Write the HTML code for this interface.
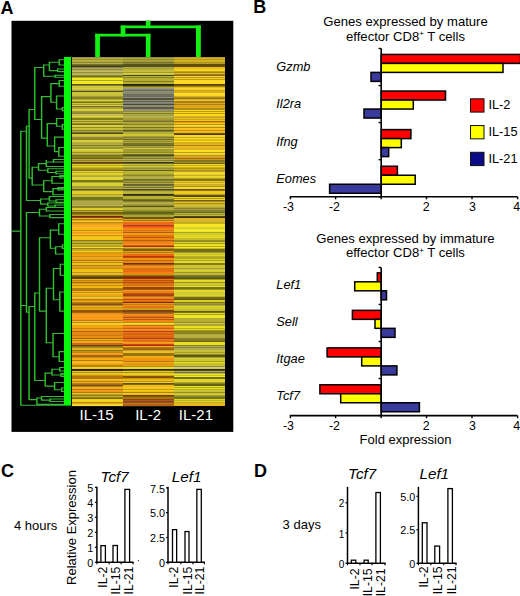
<!DOCTYPE html>
<html><head><meta charset="utf-8"><style>
html,body{margin:0;padding:0;background:#fff;}
svg{display:block;font-family:"Liberation Sans", sans-serif;}
</style></head><body>
<svg width="520" height="596" viewBox="0 0 520 596">
<rect width="520" height="596" fill="#fff"/>
<text x="0.5" y="13.85" font-size="18" font-weight="bold" font-style="normal" text-anchor="start" fill="#000" >A</text>
<text x="253.2" y="13.3" font-size="18" font-weight="bold" font-style="normal" text-anchor="start" fill="#000" >B</text>
<text x="1.0" y="477.4" font-size="18" font-weight="bold" font-style="normal" text-anchor="start" fill="#000" >C</text>
<text x="254.1" y="477.4" font-size="18" font-weight="bold" font-style="normal" text-anchor="start" fill="#000" >D</text>
<rect x="11.5" y="20.8" width="221.8" height="411.1" fill="#000"/>
<g shape-rendering="crispEdges"><rect x="72" y="57.00" width="51" height="1.50" fill="#959153"/>
<rect x="72" y="58.20" width="51" height="3.80" fill="#b6ae3a"/>
<rect x="72" y="61.70" width="51" height="2.10" fill="#aea642"/>
<rect x="72" y="63.50" width="51" height="1.40" fill="#747421"/>
<rect x="72" y="64.60" width="51" height="2.70" fill="#424211"/>
<rect x="72" y="67.00" width="51" height="3.30" fill="#b2aa5f"/>
<rect x="72" y="70.00" width="51" height="6.10" fill="#bab253"/>
<rect x="72" y="75.80" width="51" height="1.50" fill="#535311"/>
<rect x="72" y="77.00" width="51" height="7.30" fill="#f0e821"/>
<rect x="72" y="84.00" width="51" height="2.10" fill="#746c11"/>
<rect x="72" y="85.80" width="51" height="5.50" fill="#cfc73a"/>
<rect x="72" y="91.00" width="51" height="1.60" fill="#535311"/>
<rect x="72" y="92.30" width="51" height="5.00" fill="#c7be3a"/>
<rect x="72" y="97.00" width="51" height="2.00" fill="#847c21"/>
<rect x="72" y="98.70" width="51" height="3.20" fill="#d7cf3a"/>
<rect x="72" y="101.60" width="51" height="2.10" fill="#747411"/>
<rect x="72" y="103.40" width="51" height="3.30" fill="#cfc73a"/>
<rect x="72" y="106.40" width="51" height="2.60" fill="#a69d32"/>
<rect x="72" y="108.70" width="51" height="2.60" fill="#d7cf32"/>
<rect x="72" y="111.00" width="51" height="2.10" fill="#958d29"/>
<rect x="72" y="112.80" width="51" height="3.30" fill="#c7be53"/>
<rect x="72" y="115.80" width="51" height="2.60" fill="#e0d732"/>
<rect x="72" y="118.10" width="51" height="2.10" fill="#847c19"/>
<rect x="72" y="119.90" width="51" height="3.20" fill="#c7be3a"/>
<rect x="72" y="122.80" width="51" height="2.10" fill="#958d29"/>
<rect x="72" y="124.60" width="51" height="0.70" fill="#d7cf32"/>
<rect x="72" y="125.00" width="51" height="2.70" fill="#d7cf32"/>
<rect x="72" y="127.40" width="51" height="2.60" fill="#c7be3a"/>
<rect x="72" y="129.70" width="51" height="2.10" fill="#a69d29"/>
<rect x="72" y="131.50" width="51" height="2.60" fill="#746c19"/>
<rect x="72" y="133.80" width="51" height="2.70" fill="#cfc73a"/>
<rect x="72" y="136.20" width="51" height="2.00" fill="#beb64b"/>
<rect x="72" y="137.90" width="51" height="2.10" fill="#8d8421"/>
<rect x="72" y="139.70" width="51" height="2.60" fill="#d7cf3a"/>
<rect x="72" y="142.00" width="51" height="2.70" fill="#aea632"/>
<rect x="72" y="144.40" width="51" height="2.60" fill="#b6ae42"/>
<rect x="72" y="146.70" width="51" height="2.10" fill="#959529"/>
<rect x="72" y="148.50" width="51" height="3.20" fill="#d7cf3a"/>
<rect x="72" y="151.40" width="51" height="2.70" fill="#c7be3a"/>
<rect x="72" y="153.80" width="51" height="2.60" fill="#a69d32"/>
<rect x="72" y="156.10" width="51" height="3.30" fill="#847c21"/>
<rect x="72" y="159.10" width="51" height="3.20" fill="#b6a632"/>
<rect x="72" y="162.00" width="51" height="2.70" fill="#634211"/>
<rect x="72" y="164.40" width="51" height="2.60" fill="#e8d721"/>
<rect x="72" y="166.70" width="51" height="3.30" fill="#c7ae21"/>
<rect x="72" y="169.70" width="51" height="2.00" fill="#847411"/>
<rect x="72" y="171.40" width="51" height="4.40" fill="#e0cf29"/>
<rect x="72" y="175.50" width="51" height="2.10" fill="#a69d29"/>
<rect x="72" y="177.30" width="51" height="3.20" fill="#e0d732"/>
<rect x="72" y="180.20" width="51" height="2.10" fill="#747419"/>
<rect x="72" y="182.00" width="51" height="4.40" fill="#d7cf32"/>
<rect x="72" y="186.10" width="51" height="2.70" fill="#a69d32"/>
<rect x="72" y="188.50" width="51" height="2.60" fill="#847c19"/>
<rect x="72" y="190.80" width="51" height="2.50" fill="#e0cf29"/>
<rect x="72" y="193.00" width="51" height="2.70" fill="#e8cf21"/>
<rect x="72" y="195.40" width="51" height="2.00" fill="#beb632"/>
<rect x="72" y="197.10" width="51" height="2.70" fill="#747419"/>
<rect x="72" y="199.50" width="51" height="2.60" fill="#b6ae4b"/>
<rect x="72" y="201.80" width="51" height="4.40" fill="#aea642"/>
<rect x="72" y="205.90" width="51" height="2.10" fill="#8d8421"/>
<rect x="72" y="207.70" width="51" height="2.60" fill="#e0cf29"/>
<rect x="72" y="210.00" width="51" height="2.10" fill="#ae9d29"/>
<rect x="72" y="211.80" width="51" height="2.10" fill="#746311"/>
<rect x="72" y="213.60" width="51" height="2.60" fill="#be9d21"/>
<rect x="72" y="215.90" width="51" height="2.70" fill="#954211"/>
<rect x="72" y="218.30" width="51" height="2.60" fill="#e8a611"/>
<rect x="72" y="220.60" width="51" height="2.70" fill="#f0c719"/>
<rect x="72" y="223.00" width="51" height="2.60" fill="#f09511"/>
<rect x="72" y="225.30" width="51" height="3.30" fill="#f8ae11"/>
<rect x="72" y="228.30" width="51" height="3.80" fill="#f8b611"/>
<rect x="72" y="231.80" width="51" height="2.60" fill="#f09d11"/>
<rect x="72" y="234.10" width="51" height="3.90" fill="#f8be11"/>
<rect x="72" y="237.70" width="51" height="2.60" fill="#f0c719"/>
<rect x="72" y="240.00" width="51" height="2.70" fill="#b69d21"/>
<rect x="72" y="242.40" width="51" height="3.80" fill="#beae21"/>
<rect x="72" y="245.90" width="51" height="2.60" fill="#f8d721"/>
<rect x="72" y="248.20" width="51" height="2.70" fill="#c7a621"/>
<rect x="72" y="250.60" width="51" height="2.70" fill="#f0cf19"/>
<rect x="72" y="253.00" width="51" height="2.60" fill="#f09511"/>
<rect x="72" y="255.30" width="51" height="3.80" fill="#f0a611"/>
<rect x="72" y="258.80" width="51" height="2.50" fill="#f09d11"/>
<rect x="72" y="261.00" width="51" height="2.70" fill="#f0ae11"/>
<rect x="72" y="263.40" width="51" height="2.60" fill="#f0be19"/>
<rect x="72" y="265.70" width="51" height="2.10" fill="#e09511"/>
<rect x="72" y="267.50" width="51" height="2.60" fill="#f0b611"/>
<rect x="72" y="269.80" width="51" height="2.70" fill="#f0c719"/>
<rect x="72" y="272.20" width="51" height="2.60" fill="#e8b619"/>
<rect x="72" y="274.50" width="51" height="2.10" fill="#c7a619"/>
<rect x="72" y="276.30" width="51" height="2.60" fill="#634208"/>
<rect x="72" y="278.60" width="51" height="2.70" fill="#f0b611"/>
<rect x="72" y="281.00" width="51" height="3.20" fill="#e89511"/>
<rect x="72" y="283.90" width="51" height="3.30" fill="#f0ae11"/>
<rect x="72" y="286.90" width="51" height="2.60" fill="#f0be19"/>
<rect x="72" y="289.20" width="51" height="2.10" fill="#b67411"/>
<rect x="72" y="291.00" width="51" height="3.20" fill="#f0b611"/>
<rect x="72" y="293.90" width="51" height="2.70" fill="#f0a611"/>
<rect x="72" y="296.30" width="51" height="2.60" fill="#f0be19"/>
<rect x="72" y="298.60" width="51" height="2.70" fill="#e08d11"/>
<rect x="72" y="301.00" width="51" height="2.60" fill="#e8ae11"/>
<rect x="72" y="303.30" width="51" height="2.70" fill="#a66311"/>
<rect x="72" y="305.70" width="51" height="2.60" fill="#f0b619"/>
<rect x="72" y="308.00" width="51" height="2.70" fill="#e0a611"/>
<rect x="72" y="310.40" width="51" height="2.60" fill="#955308"/>
<rect x="72" y="312.70" width="51" height="2.70" fill="#f09511"/>
<rect x="72" y="315.10" width="51" height="5.00" fill="#f89511"/>
<rect x="72" y="319.80" width="51" height="2.60" fill="#f8a611"/>
<rect x="72" y="322.10" width="51" height="2.70" fill="#f8c721"/>
<rect x="72" y="324.50" width="51" height="2.60" fill="#f0a611"/>
<rect x="72" y="326.80" width="51" height="2.50" fill="#f8a611"/>
<rect x="72" y="329.00" width="51" height="2.90" fill="#f09511"/>
<rect x="72" y="331.60" width="51" height="4.20" fill="#e88411"/>
<rect x="72" y="335.50" width="51" height="4.10" fill="#e88d11"/>
<rect x="72" y="339.30" width="51" height="2.30" fill="#f0ae19"/>
<rect x="72" y="341.30" width="51" height="2.20" fill="#f0a611"/>
<rect x="72" y="343.20" width="51" height="2.30" fill="#d76311"/>
<rect x="72" y="345.20" width="51" height="2.20" fill="#746311"/>
<rect x="72" y="347.10" width="51" height="2.90" fill="#e8ae19"/>
<rect x="72" y="349.70" width="51" height="2.90" fill="#be9519"/>
<rect x="72" y="352.30" width="51" height="2.80" fill="#f09d11"/>
<rect x="72" y="354.80" width="51" height="2.30" fill="#a66311"/>
<rect x="72" y="356.80" width="51" height="4.20" fill="#f8a611"/>
<rect x="72" y="360.70" width="51" height="2.80" fill="#f8b611"/>
<rect x="72" y="363.20" width="51" height="2.90" fill="#f0a611"/>
<rect x="72" y="365.80" width="51" height="3.50" fill="#f8c711"/>
<rect x="72" y="369.00" width="51" height="2.30" fill="#322908"/>
<rect x="72" y="371.00" width="51" height="2.90" fill="#f0c719"/>
<rect x="72" y="373.60" width="51" height="2.90" fill="#e8b611"/>
<rect x="72" y="376.20" width="51" height="2.80" fill="#b67411"/>
<rect x="72" y="378.70" width="51" height="2.90" fill="#f0b611"/>
<rect x="72" y="381.30" width="51" height="2.90" fill="#f0a611"/>
<rect x="72" y="383.90" width="51" height="2.20" fill="#845308"/>
<rect x="72" y="385.80" width="51" height="3.60" fill="#f0ae19"/>
<rect x="72" y="389.10" width="51" height="2.90" fill="#f09511"/>
<rect x="72" y="391.70" width="51" height="2.80" fill="#f0b611"/>
<rect x="72" y="394.20" width="51" height="2.90" fill="#b69d19"/>
<rect x="72" y="396.80" width="51" height="2.90" fill="#958411"/>
<rect x="72" y="399.40" width="51" height="2.90" fill="#f0cf19"/>
<rect x="72" y="402.00" width="51" height="2.10" fill="#e8a611"/>
<rect x="72" y="403.80" width="51" height="2.10" fill="#f0d732"/>
<rect x="123" y="57.00" width="51" height="1.50" fill="#8f8b42"/>
<rect x="123" y="58.20" width="51" height="2.10" fill="#aea632"/>
<rect x="123" y="60.00" width="51" height="3.80" fill="#9f9932"/>
<rect x="123" y="63.50" width="51" height="3.80" fill="#535319"/>
<rect x="123" y="67.00" width="51" height="2.60" fill="#a69d3a"/>
<rect x="123" y="69.30" width="51" height="2.70" fill="#beb632"/>
<rect x="123" y="71.70" width="51" height="3.20" fill="#cfc732"/>
<rect x="123" y="74.60" width="51" height="2.10" fill="#535311"/>
<rect x="123" y="76.40" width="51" height="7.80" fill="#b6ae32"/>
<rect x="123" y="83.90" width="51" height="2.30" fill="#323211"/>
<rect x="123" y="85.90" width="51" height="2.70" fill="#aea63a"/>
<rect x="123" y="88.30" width="51" height="2.80" fill="#878774"/>
<rect x="123" y="90.80" width="51" height="2.20" fill="#918f6a"/>
<rect x="123" y="92.70" width="51" height="1.80" fill="#787867"/>
<rect x="123" y="94.20" width="51" height="1.80" fill="#70705f"/>
<rect x="123" y="95.70" width="51" height="2.70" fill="#848474"/>
<rect x="123" y="98.10" width="51" height="1.80" fill="#4f4f3e"/>
<rect x="123" y="99.60" width="51" height="1.80" fill="#918f6c"/>
<rect x="123" y="101.10" width="51" height="2.70" fill="#7c7c6a"/>
<rect x="123" y="103.50" width="51" height="1.80" fill="#5f5f4b"/>
<rect x="123" y="105.00" width="51" height="2.30" fill="#8f8d6c"/>
<rect x="123" y="107.00" width="51" height="2.20" fill="#5b5b4b"/>
<rect x="123" y="108.90" width="51" height="2.80" fill="#918f70"/>
<rect x="123" y="111.40" width="51" height="2.70" fill="#b6ae42"/>
<rect x="123" y="113.80" width="51" height="2.30" fill="#a6a642"/>
<rect x="123" y="115.80" width="51" height="2.20" fill="#b6ae53"/>
<rect x="123" y="117.70" width="51" height="3.10" fill="#a69d32"/>
<rect x="123" y="120.50" width="51" height="3.80" fill="#a69d32"/>
<rect x="123" y="124.00" width="51" height="1.30" fill="#b6ae32"/>
<rect x="123" y="125.00" width="51" height="2.70" fill="#beb632"/>
<rect x="123" y="127.40" width="51" height="2.60" fill="#a69d32"/>
<rect x="123" y="129.70" width="51" height="2.10" fill="#747421"/>
<rect x="123" y="131.50" width="51" height="2.60" fill="#b6ae3a"/>
<rect x="123" y="133.80" width="51" height="2.70" fill="#cfc732"/>
<rect x="123" y="136.20" width="51" height="2.60" fill="#a69d3a"/>
<rect x="123" y="138.50" width="51" height="2.10" fill="#6c6c21"/>
<rect x="123" y="140.30" width="51" height="2.60" fill="#aea63a"/>
<rect x="123" y="142.60" width="51" height="2.70" fill="#747421"/>
<rect x="123" y="145.00" width="51" height="3.20" fill="#9d9532"/>
<rect x="123" y="147.90" width="51" height="2.10" fill="#cfc732"/>
<rect x="123" y="149.70" width="51" height="2.60" fill="#a69d32"/>
<rect x="123" y="152.00" width="51" height="2.10" fill="#beb632"/>
<rect x="123" y="153.80" width="51" height="3.80" fill="#6c6c21"/>
<rect x="123" y="157.30" width="51" height="2.10" fill="#a69d3a"/>
<rect x="123" y="159.10" width="51" height="3.20" fill="#aea642"/>
<rect x="123" y="162.00" width="51" height="2.70" fill="#4b4b11"/>
<rect x="123" y="164.40" width="51" height="3.20" fill="#cfc732"/>
<rect x="123" y="167.30" width="51" height="2.70" fill="#aea63a"/>
<rect x="123" y="169.70" width="51" height="2.00" fill="#747421"/>
<rect x="123" y="171.40" width="51" height="3.30" fill="#beb632"/>
<rect x="123" y="174.40" width="51" height="2.60" fill="#a69d32"/>
<rect x="123" y="176.70" width="51" height="2.70" fill="#b6ae42"/>
<rect x="123" y="179.10" width="51" height="2.60" fill="#6c6c21"/>
<rect x="123" y="181.40" width="51" height="2.70" fill="#a69d32"/>
<rect x="123" y="183.80" width="51" height="2.60" fill="#636329"/>
<rect x="123" y="186.10" width="51" height="3.20" fill="#aea642"/>
<rect x="123" y="189.00" width="51" height="2.70" fill="#6c6c21"/>
<rect x="123" y="191.40" width="51" height="1.90" fill="#b6ae32"/>
<rect x="123" y="193.00" width="51" height="1.50" fill="#b6ae32"/>
<rect x="123" y="194.20" width="51" height="2.00" fill="#424211"/>
<rect x="123" y="195.90" width="51" height="3.30" fill="#b6ae32"/>
<rect x="123" y="198.90" width="51" height="2.00" fill="#747421"/>
<rect x="123" y="200.60" width="51" height="3.30" fill="#aea63a"/>
<rect x="123" y="203.60" width="51" height="2.00" fill="#a69d32"/>
<rect x="123" y="205.30" width="51" height="2.10" fill="#747421"/>
<rect x="123" y="207.10" width="51" height="3.20" fill="#aea632"/>
<rect x="123" y="210.00" width="51" height="2.10" fill="#959529"/>
<rect x="123" y="211.80" width="51" height="2.10" fill="#636319"/>
<rect x="123" y="213.60" width="51" height="3.20" fill="#a6a632"/>
<rect x="123" y="216.50" width="51" height="2.70" fill="#745311"/>
<rect x="123" y="218.90" width="51" height="3.20" fill="#e89d11"/>
<rect x="123" y="221.80" width="51" height="2.60" fill="#e86c11"/>
<rect x="123" y="224.10" width="51" height="4.50" fill="#e85311"/>
<rect x="123" y="228.30" width="51" height="5.00" fill="#f88411"/>
<rect x="123" y="233.00" width="51" height="2.60" fill="#f09d11"/>
<rect x="123" y="235.30" width="51" height="2.70" fill="#e87411"/>
<rect x="123" y="237.70" width="51" height="2.60" fill="#f08411"/>
<rect x="123" y="240.00" width="51" height="2.70" fill="#e87c11"/>
<rect x="123" y="242.40" width="51" height="2.60" fill="#f08411"/>
<rect x="123" y="244.70" width="51" height="2.70" fill="#d75311"/>
<rect x="123" y="247.10" width="51" height="2.00" fill="#f0a611"/>
<rect x="123" y="248.80" width="51" height="2.70" fill="#746311"/>
<rect x="123" y="251.20" width="51" height="2.60" fill="#e89d11"/>
<rect x="123" y="253.50" width="51" height="2.70" fill="#e86c11"/>
<rect x="123" y="255.90" width="51" height="2.60" fill="#d74211"/>
<rect x="123" y="258.20" width="51" height="2.70" fill="#f09511"/>
<rect x="123" y="260.60" width="51" height="0.70" fill="#f08d11"/>
<rect x="123" y="261.00" width="51" height="2.10" fill="#f08411"/>
<rect x="123" y="262.80" width="51" height="2.00" fill="#844208"/>
<rect x="123" y="264.50" width="51" height="2.70" fill="#f07811"/>
<rect x="123" y="266.90" width="51" height="2.00" fill="#f09511"/>
<rect x="123" y="268.60" width="51" height="3.90" fill="#e86c11"/>
<rect x="123" y="272.20" width="51" height="2.60" fill="#f08411"/>
<rect x="123" y="274.50" width="51" height="2.10" fill="#bea621"/>
<rect x="123" y="276.30" width="51" height="2.60" fill="#843208"/>
<rect x="123" y="278.60" width="51" height="2.70" fill="#f07811"/>
<rect x="123" y="281.00" width="51" height="3.80" fill="#e86c11"/>
<rect x="123" y="284.50" width="51" height="3.20" fill="#f09511"/>
<rect x="123" y="287.40" width="51" height="2.10" fill="#954208"/>
<rect x="123" y="289.20" width="51" height="2.70" fill="#f08411"/>
<rect x="123" y="291.60" width="51" height="2.60" fill="#f07811"/>
<rect x="123" y="293.90" width="51" height="2.10" fill="#a64211"/>
<rect x="123" y="295.70" width="51" height="3.20" fill="#f08411"/>
<rect x="123" y="298.60" width="51" height="3.20" fill="#e06311"/>
<rect x="123" y="301.50" width="51" height="2.10" fill="#954211"/>
<rect x="123" y="303.30" width="51" height="2.70" fill="#f09511"/>
<rect x="123" y="305.70" width="51" height="2.60" fill="#e87411"/>
<rect x="123" y="308.00" width="51" height="2.70" fill="#c79d19"/>
<rect x="123" y="310.40" width="51" height="2.60" fill="#844211"/>
<rect x="123" y="312.70" width="51" height="2.70" fill="#f09511"/>
<rect x="123" y="315.10" width="51" height="5.00" fill="#f07411"/>
<rect x="123" y="319.80" width="51" height="2.60" fill="#f88411"/>
<rect x="123" y="322.10" width="51" height="2.70" fill="#f0cf19"/>
<rect x="123" y="324.50" width="51" height="2.60" fill="#f08411"/>
<rect x="123" y="326.80" width="51" height="2.50" fill="#f87c11"/>
<rect x="123" y="329.00" width="51" height="2.30" fill="#f88411"/>
<rect x="123" y="331.00" width="51" height="2.80" fill="#e86311"/>
<rect x="123" y="333.50" width="51" height="2.90" fill="#e87411"/>
<rect x="123" y="336.10" width="51" height="3.50" fill="#e06311"/>
<rect x="123" y="339.30" width="51" height="2.90" fill="#e86c11"/>
<rect x="123" y="341.90" width="51" height="2.30" fill="#f09511"/>
<rect x="123" y="343.90" width="51" height="2.20" fill="#d74211"/>
<rect x="123" y="345.80" width="51" height="2.90" fill="#f0a611"/>
<rect x="123" y="348.40" width="51" height="2.20" fill="#a66311"/>
<rect x="123" y="350.30" width="51" height="2.90" fill="#f0be19"/>
<rect x="123" y="352.90" width="51" height="2.90" fill="#957411"/>
<rect x="123" y="355.50" width="51" height="2.90" fill="#f0ae11"/>
<rect x="123" y="358.10" width="51" height="2.90" fill="#f09511"/>
<rect x="123" y="360.70" width="51" height="2.80" fill="#f0a611"/>
<rect x="123" y="363.20" width="51" height="2.90" fill="#e89511"/>
<rect x="123" y="365.80" width="51" height="3.50" fill="#f0d721"/>
<rect x="123" y="369.00" width="51" height="2.30" fill="#323208"/>
<rect x="123" y="371.00" width="51" height="2.90" fill="#f0cf19"/>
<rect x="123" y="373.60" width="51" height="2.90" fill="#f8cf21"/>
<rect x="123" y="376.20" width="51" height="2.20" fill="#845308"/>
<rect x="123" y="378.10" width="51" height="2.90" fill="#f0b611"/>
<rect x="123" y="380.70" width="51" height="2.90" fill="#f0c719"/>
<rect x="123" y="383.30" width="51" height="2.20" fill="#846311"/>
<rect x="123" y="385.20" width="51" height="3.50" fill="#f0be11"/>
<rect x="123" y="388.40" width="51" height="2.90" fill="#f8c711"/>
<rect x="123" y="391.00" width="51" height="4.20" fill="#f0be11"/>
<rect x="123" y="394.90" width="51" height="2.20" fill="#845308"/>
<rect x="123" y="396.80" width="51" height="2.90" fill="#a67411"/>
<rect x="123" y="399.40" width="51" height="2.90" fill="#954211"/>
<rect x="123" y="402.00" width="51" height="3.90" fill="#b66311"/>
<rect x="174" y="57.00" width="50.5" height="1.50" fill="#b69521"/>
<rect x="174" y="58.20" width="50.5" height="2.10" fill="#d7b621"/>
<rect x="174" y="60.00" width="50.5" height="2.60" fill="#cfae19"/>
<rect x="174" y="62.30" width="50.5" height="2.00" fill="#e0be21"/>
<rect x="174" y="64.00" width="50.5" height="3.30" fill="#634b08"/>
<rect x="174" y="67.00" width="50.5" height="2.60" fill="#e8be19"/>
<rect x="174" y="69.30" width="50.5" height="2.70" fill="#f8cf21"/>
<rect x="174" y="71.70" width="50.5" height="2.60" fill="#d7ae19"/>
<rect x="174" y="74.00" width="50.5" height="2.70" fill="#a68411"/>
<rect x="174" y="76.40" width="50.5" height="2.60" fill="#f8cf21"/>
<rect x="174" y="78.70" width="50.5" height="5.60" fill="#ffd721"/>
<rect x="174" y="84.00" width="50.5" height="2.10" fill="#745308"/>
<rect x="174" y="85.80" width="50.5" height="2.60" fill="#e8be19"/>
<rect x="174" y="88.10" width="50.5" height="2.70" fill="#f8cf21"/>
<rect x="174" y="90.50" width="50.5" height="3.20" fill="#d7ae19"/>
<rect x="174" y="93.40" width="50.5" height="3.90" fill="#ffd721"/>
<rect x="174" y="97.00" width="50.5" height="2.60" fill="#ae8411"/>
<rect x="174" y="99.30" width="50.5" height="2.70" fill="#e0b619"/>
<rect x="174" y="101.70" width="50.5" height="2.00" fill="#957411"/>
<rect x="174" y="103.40" width="50.5" height="4.40" fill="#e0a619"/>
<rect x="174" y="107.50" width="50.5" height="2.70" fill="#ae8d11"/>
<rect x="174" y="109.90" width="50.5" height="6.20" fill="#ffd711"/>
<rect x="174" y="115.80" width="50.5" height="2.60" fill="#e0b619"/>
<rect x="174" y="118.10" width="50.5" height="2.70" fill="#f0c719"/>
<rect x="174" y="120.50" width="50.5" height="2.60" fill="#e89d11"/>
<rect x="174" y="122.80" width="50.5" height="2.10" fill="#f0c719"/>
<rect x="174" y="124.60" width="50.5" height="0.70" fill="#e0b619"/>
<rect x="174" y="125.00" width="50.5" height="2.70" fill="#f8cf21"/>
<rect x="174" y="127.40" width="50.5" height="4.40" fill="#f8be19"/>
<rect x="174" y="131.50" width="50.5" height="2.00" fill="#e0b619"/>
<rect x="174" y="133.20" width="50.5" height="2.10" fill="#745311"/>
<rect x="174" y="135.00" width="50.5" height="3.80" fill="#f8d721"/>
<rect x="174" y="138.50" width="50.5" height="1.50" fill="#e0b619"/>
<rect x="174" y="139.70" width="50.5" height="2.10" fill="#ffe021"/>
<rect x="174" y="141.50" width="50.5" height="2.60" fill="#d7ae19"/>
<rect x="174" y="143.80" width="50.5" height="5.00" fill="#e8b619"/>
<rect x="174" y="148.50" width="50.5" height="2.10" fill="#cfa619"/>
<rect x="174" y="150.30" width="50.5" height="2.00" fill="#ffe021"/>
<rect x="174" y="152.00" width="50.5" height="3.90" fill="#f8cf21"/>
<rect x="174" y="155.60" width="50.5" height="2.00" fill="#cfa619"/>
<rect x="174" y="157.30" width="50.5" height="3.30" fill="#cf9519"/>
<rect x="174" y="160.30" width="50.5" height="2.60" fill="#a69519"/>
<rect x="174" y="162.60" width="50.5" height="2.10" fill="#635b11"/>
<rect x="174" y="164.40" width="50.5" height="3.20" fill="#f8e021"/>
<rect x="174" y="167.30" width="50.5" height="2.70" fill="#cfae19"/>
<rect x="174" y="169.70" width="50.5" height="2.60" fill="#ae9519"/>
<rect x="174" y="172.00" width="50.5" height="2.70" fill="#f0d721"/>
<rect x="174" y="174.40" width="50.5" height="5.00" fill="#e8cf21"/>
<rect x="174" y="179.10" width="50.5" height="2.60" fill="#847411"/>
<rect x="174" y="181.40" width="50.5" height="2.70" fill="#f0cf21"/>
<rect x="174" y="183.80" width="50.5" height="2.60" fill="#cfae19"/>
<rect x="174" y="186.10" width="50.5" height="3.20" fill="#f8d721"/>
<rect x="174" y="189.00" width="50.5" height="2.70" fill="#957411"/>
<rect x="174" y="191.40" width="50.5" height="1.90" fill="#f0c721"/>
<rect x="174" y="193.00" width="50.5" height="2.10" fill="#f0cf19"/>
<rect x="174" y="194.80" width="50.5" height="2.00" fill="#534208"/>
<rect x="174" y="196.50" width="50.5" height="3.30" fill="#f0d721"/>
<rect x="174" y="199.50" width="50.5" height="2.00" fill="#846c11"/>
<rect x="174" y="201.20" width="50.5" height="3.30" fill="#e0be19"/>
<rect x="174" y="204.20" width="50.5" height="2.60" fill="#c7b629"/>
<rect x="174" y="206.50" width="50.5" height="2.10" fill="#aea642"/>
<rect x="174" y="208.30" width="50.5" height="2.60" fill="#a69d32"/>
<rect x="174" y="210.60" width="50.5" height="2.70" fill="#6c6c21"/>
<rect x="174" y="213.00" width="50.5" height="3.20" fill="#beb632"/>
<rect x="174" y="215.90" width="50.5" height="2.70" fill="#534b11"/>
<rect x="174" y="218.30" width="50.5" height="3.20" fill="#e0b621"/>
<rect x="174" y="221.20" width="50.5" height="2.70" fill="#c7ae21"/>
<rect x="174" y="223.60" width="50.5" height="3.80" fill="#f8e821"/>
<rect x="174" y="227.10" width="50.5" height="2.60" fill="#d7cf29"/>
<rect x="174" y="229.40" width="50.5" height="3.90" fill="#f0e821"/>
<rect x="174" y="233.00" width="50.5" height="2.60" fill="#cfc729"/>
<rect x="174" y="235.30" width="50.5" height="3.20" fill="#e0d721"/>
<rect x="174" y="238.20" width="50.5" height="2.70" fill="#c7be29"/>
<rect x="174" y="240.60" width="50.5" height="2.10" fill="#847419"/>
<rect x="174" y="242.40" width="50.5" height="2.60" fill="#e0d721"/>
<rect x="174" y="244.70" width="50.5" height="5.00" fill="#f8e821"/>
<rect x="174" y="249.40" width="50.5" height="2.70" fill="#746c19"/>
<rect x="174" y="251.80" width="50.5" height="3.20" fill="#cfc732"/>
<rect x="174" y="254.70" width="50.5" height="2.60" fill="#e0d721"/>
<rect x="174" y="257.00" width="50.5" height="2.70" fill="#aea629"/>
<rect x="174" y="259.40" width="50.5" height="1.90" fill="#e0d721"/>
<rect x="174" y="261.00" width="50.5" height="2.10" fill="#e0d721"/>
<rect x="174" y="262.80" width="50.5" height="2.00" fill="#847c19"/>
<rect x="174" y="264.50" width="50.5" height="3.30" fill="#cfc732"/>
<rect x="174" y="267.50" width="50.5" height="2.60" fill="#c7be42"/>
<rect x="174" y="269.80" width="50.5" height="2.70" fill="#d7cf29"/>
<rect x="174" y="272.20" width="50.5" height="2.60" fill="#beb632"/>
<rect x="174" y="274.50" width="50.5" height="2.10" fill="#aea632"/>
<rect x="174" y="276.30" width="50.5" height="2.60" fill="#5b5b11"/>
<rect x="174" y="278.60" width="50.5" height="3.30" fill="#e0d721"/>
<rect x="174" y="281.60" width="50.5" height="3.20" fill="#cfc729"/>
<rect x="174" y="284.50" width="50.5" height="3.20" fill="#e8e021"/>
<rect x="174" y="287.40" width="50.5" height="2.10" fill="#747419"/>
<rect x="174" y="289.20" width="50.5" height="3.20" fill="#e0d721"/>
<rect x="174" y="292.10" width="50.5" height="3.30" fill="#cfc732"/>
<rect x="174" y="295.10" width="50.5" height="2.60" fill="#e0d729"/>
<rect x="174" y="297.40" width="50.5" height="2.70" fill="#746c19"/>
<rect x="174" y="299.80" width="50.5" height="2.60" fill="#d7cf29"/>
<rect x="174" y="302.10" width="50.5" height="2.10" fill="#a69d29"/>
<rect x="174" y="303.90" width="50.5" height="2.60" fill="#aea63a"/>
<rect x="174" y="306.20" width="50.5" height="2.70" fill="#d7cf29"/>
<rect x="174" y="308.60" width="50.5" height="2.70" fill="#c7be29"/>
<rect x="174" y="311.00" width="50.5" height="2.60" fill="#635b11"/>
<rect x="174" y="313.30" width="50.5" height="3.20" fill="#e8e021"/>
<rect x="174" y="316.20" width="50.5" height="3.30" fill="#f0e821"/>
<rect x="174" y="319.20" width="50.5" height="2.60" fill="#b6ae32"/>
<rect x="174" y="321.50" width="50.5" height="2.70" fill="#cfc732"/>
<rect x="174" y="323.90" width="50.5" height="2.60" fill="#aea632"/>
<rect x="174" y="326.20" width="50.5" height="3.10" fill="#e8e021"/>
<rect x="174" y="329.00" width="50.5" height="2.30" fill="#e0d721"/>
<rect x="174" y="331.00" width="50.5" height="2.80" fill="#847c19"/>
<rect x="174" y="333.50" width="50.5" height="6.10" fill="#b6ae42"/>
<rect x="174" y="339.30" width="50.5" height="2.90" fill="#847c19"/>
<rect x="174" y="341.90" width="50.5" height="2.90" fill="#e8e021"/>
<rect x="174" y="344.50" width="50.5" height="2.20" fill="#aea632"/>
<rect x="174" y="346.40" width="50.5" height="4.20" fill="#aea642"/>
<rect x="174" y="350.30" width="50.5" height="4.80" fill="#c7be32"/>
<rect x="174" y="354.80" width="50.5" height="2.30" fill="#5b5b11"/>
<rect x="174" y="356.80" width="50.5" height="4.20" fill="#cfc732"/>
<rect x="174" y="360.70" width="50.5" height="2.80" fill="#e8e021"/>
<rect x="174" y="363.20" width="50.5" height="2.90" fill="#c7be32"/>
<rect x="174" y="365.80" width="50.5" height="3.50" fill="#cfc763"/>
<rect x="174" y="369.00" width="50.5" height="2.30" fill="#323211"/>
<rect x="174" y="371.00" width="50.5" height="3.50" fill="#aea642"/>
<rect x="174" y="374.20" width="50.5" height="3.50" fill="#f0e821"/>
<rect x="174" y="377.40" width="50.5" height="2.30" fill="#746c11"/>
<rect x="174" y="379.40" width="50.5" height="2.90" fill="#e0d721"/>
<rect x="174" y="382.00" width="50.5" height="2.20" fill="#aea632"/>
<rect x="174" y="383.90" width="50.5" height="2.20" fill="#636311"/>
<rect x="174" y="385.80" width="50.5" height="4.20" fill="#e8e021"/>
<rect x="174" y="389.70" width="50.5" height="2.90" fill="#c7be32"/>
<rect x="174" y="392.30" width="50.5" height="4.20" fill="#cfc732"/>
<rect x="174" y="396.20" width="50.5" height="2.90" fill="#747419"/>
<rect x="174" y="398.80" width="50.5" height="4.10" fill="#e0d721"/>
<rect x="174" y="402.60" width="50.5" height="3.30" fill="#e8b619"/><rect x="72" y="58.5" width="152.5" height="1" fill="#000" fill-opacity="0.16"/>
<rect x="123" y="59.5" width="51" height="1" fill="#fff" fill-opacity="0.11"/>
<rect x="174" y="59.5" width="50.5" height="1" fill="#fff" fill-opacity="0.07"/>
<rect x="72" y="61.5" width="152.5" height="1" fill="#000" fill-opacity="0.21"/>
<rect x="72" y="62.5" width="51" height="1" fill="#fff" fill-opacity="0.08"/>
<rect x="123" y="62.5" width="51" height="1" fill="#fff" fill-opacity="0.13"/>
<rect x="174" y="62.5" width="50.5" height="1" fill="#fff" fill-opacity="0.09"/>
<rect x="123" y="62.5" width="51" height="1" fill="#000" fill-opacity="0.20"/>
<rect x="174" y="62.5" width="50.5" height="1" fill="#000" fill-opacity="0.20"/>
<rect x="72" y="64.5" width="51" height="1" fill="#fff" fill-opacity="0.11"/>
<rect x="72" y="66.5" width="51" height="1" fill="#000" fill-opacity="0.24"/>
<rect x="123" y="66.5" width="51" height="1" fill="#fff" fill-opacity="0.11"/>
<rect x="72" y="68.5" width="51" height="1" fill="#000" fill-opacity="0.21"/>
<rect x="174" y="70.5" width="50.5" height="1" fill="#000" fill-opacity="0.21"/>
<rect x="72" y="70.5" width="51" height="1" fill="#fff" fill-opacity="0.10"/>
<rect x="123" y="70.5" width="51" height="1" fill="#fff" fill-opacity="0.10"/>
<rect x="72" y="71.5" width="152.5" height="1" fill="#000" fill-opacity="0.21"/>
<rect x="123" y="72.5" width="51" height="1" fill="#fff" fill-opacity="0.10"/>
<rect x="174" y="72.5" width="50.5" height="1" fill="#fff" fill-opacity="0.12"/>
<rect x="72" y="74.5" width="152.5" height="1" fill="#000" fill-opacity="0.20"/>
<rect x="72" y="75.5" width="51" height="1" fill="#fff" fill-opacity="0.13"/>
<rect x="123" y="75.5" width="51" height="1" fill="#fff" fill-opacity="0.08"/>
<rect x="174" y="75.5" width="50.5" height="1" fill="#fff" fill-opacity="0.12"/>
<rect x="72" y="76.5" width="152.5" height="1" fill="#000" fill-opacity="0.25"/>
<rect x="72" y="79.5" width="51" height="1" fill="#000" fill-opacity="0.28"/>
<rect x="123" y="80.5" width="51" height="1" fill="#000" fill-opacity="0.28"/>
<rect x="174" y="78.5" width="50.5" height="1" fill="#000" fill-opacity="0.28"/>
<rect x="72" y="80.5" width="51" height="1" fill="#fff" fill-opacity="0.09"/>
<rect x="174" y="80.5" width="50.5" height="1" fill="#fff" fill-opacity="0.13"/>
<rect x="72" y="83.5" width="152.5" height="1" fill="#000" fill-opacity="0.21"/>
<rect x="72" y="84.5" width="51" height="1" fill="#fff" fill-opacity="0.13"/>
<rect x="123" y="85.5" width="51" height="1" fill="#000" fill-opacity="0.30"/>
<rect x="174" y="85.5" width="50.5" height="1" fill="#000" fill-opacity="0.30"/>
<rect x="72" y="87.5" width="51" height="1" fill="#fff" fill-opacity="0.12"/>
<rect x="123" y="87.5" width="51" height="1" fill="#fff" fill-opacity="0.13"/>
<rect x="174" y="87.5" width="50.5" height="1" fill="#fff" fill-opacity="0.09"/>
<rect x="72" y="89.5" width="152.5" height="1" fill="#000" fill-opacity="0.20"/>
<rect x="72" y="92.5" width="51" height="1" fill="#fff" fill-opacity="0.10"/>
<rect x="123" y="92.5" width="51" height="1" fill="#fff" fill-opacity="0.10"/>
<rect x="174" y="92.5" width="50.5" height="1" fill="#fff" fill-opacity="0.14"/>
<rect x="72" y="95.5" width="152.5" height="1" fill="#000" fill-opacity="0.19"/>
<rect x="72" y="96.5" width="51" height="1" fill="#fff" fill-opacity="0.07"/>
<rect x="123" y="96.5" width="51" height="1" fill="#fff" fill-opacity="0.08"/>
<rect x="174" y="96.5" width="50.5" height="1" fill="#fff" fill-opacity="0.07"/>
<rect x="72" y="98.5" width="51" height="1" fill="#000" fill-opacity="0.16"/>
<rect x="174" y="97.5" width="50.5" height="1" fill="#000" fill-opacity="0.16"/>
<rect x="174" y="99.5" width="50.5" height="1" fill="#fff" fill-opacity="0.10"/>
<rect x="72" y="100.5" width="152.5" height="1" fill="#000" fill-opacity="0.26"/>
<rect x="123" y="101.5" width="51" height="1" fill="#fff" fill-opacity="0.12"/>
<rect x="174" y="101.5" width="50.5" height="1" fill="#fff" fill-opacity="0.08"/>
<rect x="72" y="103.5" width="152.5" height="1" fill="#000" fill-opacity="0.23"/>
<rect x="72" y="104.5" width="51" height="1" fill="#fff" fill-opacity="0.11"/>
<rect x="72" y="105.5" width="51" height="1" fill="#000" fill-opacity="0.29"/>
<rect x="72" y="107.5" width="51" height="1" fill="#fff" fill-opacity="0.09"/>
<rect x="123" y="110.5" width="51" height="1" fill="#000" fill-opacity="0.27"/>
<rect x="174" y="110.5" width="50.5" height="1" fill="#000" fill-opacity="0.27"/>
<rect x="72" y="110.5" width="51" height="1" fill="#fff" fill-opacity="0.07"/>
<rect x="123" y="110.5" width="51" height="1" fill="#fff" fill-opacity="0.09"/>
<rect x="72" y="112.5" width="152.5" height="1" fill="#000" fill-opacity="0.29"/>
<rect x="174" y="113.5" width="50.5" height="1" fill="#fff" fill-opacity="0.09"/>
<rect x="72" y="116.5" width="51" height="1" fill="#000" fill-opacity="0.19"/>
<rect x="174" y="116.5" width="50.5" height="1" fill="#000" fill-opacity="0.19"/>
<rect x="72" y="116.5" width="51" height="1" fill="#fff" fill-opacity="0.12"/>
<rect x="174" y="116.5" width="50.5" height="1" fill="#fff" fill-opacity="0.10"/>
<rect x="123" y="119.5" width="51" height="1" fill="#000" fill-opacity="0.17"/>
<rect x="174" y="118.5" width="50.5" height="1" fill="#000" fill-opacity="0.17"/>
<rect x="123" y="119.5" width="51" height="1" fill="#fff" fill-opacity="0.08"/>
<rect x="72" y="120.5" width="152.5" height="1" fill="#000" fill-opacity="0.28"/>
<rect x="123" y="121.5" width="51" height="1" fill="#fff" fill-opacity="0.13"/>
<rect x="72" y="123.5" width="152.5" height="1" fill="#000" fill-opacity="0.23"/>
<rect x="72" y="124.5" width="51" height="1" fill="#fff" fill-opacity="0.13"/>
<rect x="174" y="124.5" width="50.5" height="1" fill="#fff" fill-opacity="0.12"/>
<rect x="72" y="126.5" width="152.5" height="1" fill="#000" fill-opacity="0.28"/>
<rect x="123" y="127.5" width="51" height="1" fill="#fff" fill-opacity="0.09"/>
<rect x="174" y="127.5" width="50.5" height="1" fill="#fff" fill-opacity="0.09"/>
<rect x="72" y="129.5" width="152.5" height="1" fill="#000" fill-opacity="0.21"/>
<rect x="72" y="130.5" width="51" height="1" fill="#fff" fill-opacity="0.13"/>
<rect x="123" y="130.5" width="51" height="1" fill="#fff" fill-opacity="0.10"/>
<rect x="72" y="132.5" width="51" height="1" fill="#000" fill-opacity="0.28"/>
<rect x="174" y="133.5" width="50.5" height="1" fill="#000" fill-opacity="0.28"/>
<rect x="72" y="136.5" width="152.5" height="1" fill="#000" fill-opacity="0.22"/>
<rect x="174" y="137.5" width="50.5" height="1" fill="#fff" fill-opacity="0.11"/>
<rect x="123" y="140.5" width="51" height="1" fill="#000" fill-opacity="0.16"/>
<rect x="174" y="139.5" width="50.5" height="1" fill="#000" fill-opacity="0.16"/>
<rect x="72" y="141.5" width="51" height="1" fill="#fff" fill-opacity="0.11"/>
<rect x="72" y="144.5" width="152.5" height="1" fill="#000" fill-opacity="0.30"/>
<rect x="123" y="145.5" width="51" height="1" fill="#fff" fill-opacity="0.09"/>
<rect x="174" y="145.5" width="50.5" height="1" fill="#fff" fill-opacity="0.13"/>
<rect x="123" y="148.5" width="51" height="1" fill="#000" fill-opacity="0.28"/>
<rect x="72" y="148.5" width="51" height="1" fill="#fff" fill-opacity="0.10"/>
<rect x="123" y="148.5" width="51" height="1" fill="#fff" fill-opacity="0.10"/>
<rect x="174" y="148.5" width="50.5" height="1" fill="#fff" fill-opacity="0.12"/>
<rect x="72" y="151.5" width="152.5" height="1" fill="#000" fill-opacity="0.25"/>
<rect x="174" y="152.5" width="50.5" height="1" fill="#fff" fill-opacity="0.12"/>
<rect x="72" y="154.5" width="152.5" height="1" fill="#000" fill-opacity="0.28"/>
<rect x="123" y="155.5" width="51" height="1" fill="#fff" fill-opacity="0.14"/>
<rect x="174" y="155.5" width="50.5" height="1" fill="#fff" fill-opacity="0.10"/>
<rect x="72" y="157.5" width="152.5" height="1" fill="#000" fill-opacity="0.21"/>
<rect x="72" y="158.5" width="51" height="1" fill="#fff" fill-opacity="0.09"/>
<rect x="123" y="158.5" width="51" height="1" fill="#fff" fill-opacity="0.09"/>
<rect x="72" y="159.5" width="152.5" height="1" fill="#000" fill-opacity="0.21"/>
<rect x="123" y="160.5" width="51" height="1" fill="#fff" fill-opacity="0.11"/>
<rect x="174" y="160.5" width="50.5" height="1" fill="#fff" fill-opacity="0.14"/>
<rect x="123" y="161.5" width="51" height="1" fill="#000" fill-opacity="0.27"/>
<rect x="174" y="160.5" width="50.5" height="1" fill="#000" fill-opacity="0.27"/>
<rect x="72" y="162.5" width="51" height="1" fill="#fff" fill-opacity="0.08"/>
<rect x="123" y="162.5" width="51" height="1" fill="#fff" fill-opacity="0.13"/>
<rect x="72" y="164.5" width="152.5" height="1" fill="#000" fill-opacity="0.23"/>
<rect x="72" y="165.5" width="51" height="1" fill="#fff" fill-opacity="0.10"/>
<rect x="123" y="165.5" width="51" height="1" fill="#fff" fill-opacity="0.09"/>
<rect x="72" y="167.5" width="152.5" height="1" fill="#000" fill-opacity="0.15"/>
<rect x="72" y="168.5" width="51" height="1" fill="#000" fill-opacity="0.18"/>
<rect x="123" y="169.5" width="51" height="1" fill="#000" fill-opacity="0.18"/>
<rect x="72" y="170.5" width="51" height="1" fill="#fff" fill-opacity="0.13"/>
<rect x="174" y="170.5" width="50.5" height="1" fill="#fff" fill-opacity="0.12"/>
<rect x="72" y="171.5" width="51" height="1" fill="#000" fill-opacity="0.18"/>
<rect x="72" y="172.5" width="51" height="1" fill="#fff" fill-opacity="0.10"/>
<rect x="174" y="172.5" width="50.5" height="1" fill="#fff" fill-opacity="0.13"/>
<rect x="72" y="174.5" width="152.5" height="1" fill="#000" fill-opacity="0.14"/>
<rect x="72" y="175.5" width="51" height="1" fill="#fff" fill-opacity="0.14"/>
<rect x="123" y="175.5" width="51" height="1" fill="#fff" fill-opacity="0.09"/>
<rect x="174" y="175.5" width="50.5" height="1" fill="#fff" fill-opacity="0.12"/>
<rect x="174" y="177.5" width="50.5" height="1" fill="#000" fill-opacity="0.23"/>
<rect x="123" y="179.5" width="51" height="1" fill="#fff" fill-opacity="0.13"/>
<rect x="72" y="181.5" width="152.5" height="1" fill="#000" fill-opacity="0.20"/>
<rect x="72" y="182.5" width="51" height="1" fill="#fff" fill-opacity="0.08"/>
<rect x="123" y="182.5" width="51" height="1" fill="#fff" fill-opacity="0.12"/>
<rect x="174" y="182.5" width="50.5" height="1" fill="#fff" fill-opacity="0.08"/>
<rect x="123" y="184.5" width="51" height="1" fill="#fff" fill-opacity="0.08"/>
<rect x="174" y="184.5" width="50.5" height="1" fill="#fff" fill-opacity="0.07"/>
<rect x="123" y="186.5" width="51" height="1" fill="#000" fill-opacity="0.30"/>
<rect x="174" y="185.5" width="50.5" height="1" fill="#000" fill-opacity="0.30"/>
<rect x="72" y="187.5" width="51" height="1" fill="#fff" fill-opacity="0.10"/>
<rect x="123" y="187.5" width="51" height="1" fill="#fff" fill-opacity="0.11"/>
<rect x="174" y="187.5" width="50.5" height="1" fill="#fff" fill-opacity="0.11"/>
<rect x="72" y="188.5" width="152.5" height="1" fill="#000" fill-opacity="0.27"/>
<rect x="72" y="189.5" width="51" height="1" fill="#fff" fill-opacity="0.11"/>
<rect x="123" y="189.5" width="51" height="1" fill="#fff" fill-opacity="0.09"/>
<rect x="123" y="191.5" width="51" height="1" fill="#fff" fill-opacity="0.09"/>
<rect x="72" y="193.5" width="152.5" height="1" fill="#000" fill-opacity="0.24"/>
<rect x="72" y="194.5" width="51" height="1" fill="#fff" fill-opacity="0.13"/>
<rect x="174" y="194.5" width="50.5" height="1" fill="#fff" fill-opacity="0.10"/>
<rect x="174" y="197.5" width="50.5" height="1" fill="#000" fill-opacity="0.26"/>
<rect x="72" y="199.5" width="152.5" height="1" fill="#000" fill-opacity="0.15"/>
<rect x="174" y="200.5" width="50.5" height="1" fill="#fff" fill-opacity="0.10"/>
<rect x="123" y="200.5" width="51" height="1" fill="#000" fill-opacity="0.24"/>
<rect x="174" y="200.5" width="50.5" height="1" fill="#000" fill-opacity="0.24"/>
<rect x="123" y="202.5" width="51" height="1" fill="#fff" fill-opacity="0.11"/>
<rect x="174" y="202.5" width="50.5" height="1" fill="#000" fill-opacity="0.22"/>
<rect x="72" y="204.5" width="51" height="1" fill="#fff" fill-opacity="0.12"/>
<rect x="123" y="204.5" width="51" height="1" fill="#fff" fill-opacity="0.13"/>
<rect x="174" y="204.5" width="50.5" height="1" fill="#fff" fill-opacity="0.13"/>
<rect x="123" y="205.5" width="51" height="1" fill="#000" fill-opacity="0.24"/>
<rect x="174" y="207.5" width="50.5" height="1" fill="#000" fill-opacity="0.24"/>
<rect x="123" y="207.5" width="51" height="1" fill="#fff" fill-opacity="0.11"/>
<rect x="174" y="207.5" width="50.5" height="1" fill="#fff" fill-opacity="0.07"/>
<rect x="72" y="209.5" width="51" height="1" fill="#000" fill-opacity="0.16"/>
<rect x="123" y="210.5" width="51" height="1" fill="#000" fill-opacity="0.16"/>
<rect x="174" y="209.5" width="50.5" height="1" fill="#000" fill-opacity="0.16"/>
<rect x="72" y="210.5" width="51" height="1" fill="#fff" fill-opacity="0.08"/>
<rect x="174" y="210.5" width="50.5" height="1" fill="#fff" fill-opacity="0.14"/>
<rect x="72" y="213.5" width="152.5" height="1" fill="#000" fill-opacity="0.21"/>
<rect x="174" y="214.5" width="50.5" height="1" fill="#fff" fill-opacity="0.09"/>
<rect x="72" y="215.5" width="51" height="1" fill="#000" fill-opacity="0.29"/>
<rect x="123" y="217.5" width="51" height="1" fill="#000" fill-opacity="0.29"/>
<rect x="174" y="216.5" width="50.5" height="1" fill="#000" fill-opacity="0.29"/>
<rect x="72" y="217.5" width="51" height="1" fill="#fff" fill-opacity="0.13"/>
<rect x="123" y="217.5" width="51" height="1" fill="#fff" fill-opacity="0.13"/>
<rect x="72" y="218.5" width="51" height="1" fill="#000" fill-opacity="0.28"/>
<rect x="123" y="219.5" width="51" height="1" fill="#000" fill-opacity="0.28"/>
<rect x="72" y="220.5" width="51" height="1" fill="#fff" fill-opacity="0.12"/>
<rect x="123" y="220.5" width="51" height="1" fill="#fff" fill-opacity="0.10"/>
<rect x="174" y="220.5" width="50.5" height="1" fill="#fff" fill-opacity="0.09"/>
<rect x="72" y="221.5" width="51" height="1" fill="#000" fill-opacity="0.27"/>
<rect x="72" y="223.5" width="51" height="1" fill="#fff" fill-opacity="0.10"/>
<rect x="123" y="223.5" width="51" height="1" fill="#fff" fill-opacity="0.14"/>
<rect x="123" y="224.5" width="51" height="1" fill="#000" fill-opacity="0.26"/>
<rect x="72" y="226.5" width="51" height="1" fill="#fff" fill-opacity="0.14"/>
<rect x="123" y="226.5" width="51" height="1" fill="#fff" fill-opacity="0.09"/>
<rect x="174" y="226.5" width="50.5" height="1" fill="#fff" fill-opacity="0.08"/>
<rect x="72" y="229.5" width="51" height="1" fill="#000" fill-opacity="0.21"/>
<rect x="123" y="229.5" width="51" height="1" fill="#000" fill-opacity="0.21"/>
<rect x="123" y="229.5" width="51" height="1" fill="#fff" fill-opacity="0.12"/>
<rect x="174" y="229.5" width="50.5" height="1" fill="#fff" fill-opacity="0.12"/>
<rect x="123" y="231.5" width="51" height="1" fill="#000" fill-opacity="0.29"/>
<rect x="174" y="231.5" width="50.5" height="1" fill="#000" fill-opacity="0.29"/>
<rect x="72" y="232.5" width="51" height="1" fill="#fff" fill-opacity="0.12"/>
<rect x="174" y="232.5" width="50.5" height="1" fill="#fff" fill-opacity="0.09"/>
<rect x="72" y="234.5" width="51" height="1" fill="#000" fill-opacity="0.20"/>
<rect x="123" y="236.5" width="51" height="1" fill="#000" fill-opacity="0.20"/>
<rect x="72" y="236.5" width="51" height="1" fill="#fff" fill-opacity="0.09"/>
<rect x="72" y="239.5" width="152.5" height="1" fill="#000" fill-opacity="0.23"/>
<rect x="72" y="240.5" width="51" height="1" fill="#fff" fill-opacity="0.08"/>
<rect x="174" y="240.5" width="50.5" height="1" fill="#fff" fill-opacity="0.10"/>
<rect x="72" y="242.5" width="51" height="1" fill="#000" fill-opacity="0.26"/>
<rect x="174" y="242.5" width="50.5" height="1" fill="#000" fill-opacity="0.26"/>
<rect x="72" y="243.5" width="51" height="1" fill="#fff" fill-opacity="0.07"/>
<rect x="123" y="243.5" width="51" height="1" fill="#fff" fill-opacity="0.14"/>
<rect x="174" y="243.5" width="50.5" height="1" fill="#fff" fill-opacity="0.11"/>
<rect x="72" y="245.5" width="152.5" height="1" fill="#000" fill-opacity="0.28"/>
<rect x="72" y="246.5" width="51" height="1" fill="#fff" fill-opacity="0.12"/>
<rect x="123" y="246.5" width="51" height="1" fill="#fff" fill-opacity="0.09"/>
<rect x="72" y="247.5" width="152.5" height="1" fill="#000" fill-opacity="0.21"/>
<rect x="72" y="251.5" width="152.5" height="1" fill="#000" fill-opacity="0.20"/>
<rect x="72" y="255.5" width="152.5" height="1" fill="#000" fill-opacity="0.16"/>
<rect x="72" y="256.5" width="51" height="1" fill="#fff" fill-opacity="0.11"/>
<rect x="72" y="259.5" width="152.5" height="1" fill="#000" fill-opacity="0.26"/>
<rect x="72" y="260.5" width="51" height="1" fill="#fff" fill-opacity="0.08"/>
<rect x="174" y="260.5" width="50.5" height="1" fill="#fff" fill-opacity="0.12"/>
<rect x="72" y="261.5" width="51" height="1" fill="#000" fill-opacity="0.22"/>
<rect x="123" y="262.5" width="51" height="1" fill="#000" fill-opacity="0.22"/>
<rect x="123" y="263.5" width="51" height="1" fill="#fff" fill-opacity="0.09"/>
<rect x="72" y="264.5" width="51" height="1" fill="#000" fill-opacity="0.30"/>
<rect x="72" y="265.5" width="51" height="1" fill="#fff" fill-opacity="0.09"/>
<rect x="123" y="265.5" width="51" height="1" fill="#fff" fill-opacity="0.14"/>
<rect x="72" y="267.5" width="152.5" height="1" fill="#000" fill-opacity="0.17"/>
<rect x="174" y="268.5" width="50.5" height="1" fill="#fff" fill-opacity="0.09"/>
<rect x="72" y="271.5" width="51" height="1" fill="#000" fill-opacity="0.18"/>
<rect x="174" y="271.5" width="50.5" height="1" fill="#000" fill-opacity="0.18"/>
<rect x="72" y="272.5" width="51" height="1" fill="#fff" fill-opacity="0.13"/>
<rect x="174" y="272.5" width="50.5" height="1" fill="#fff" fill-opacity="0.08"/>
<rect x="72" y="274.5" width="152.5" height="1" fill="#000" fill-opacity="0.27"/>
<rect x="72" y="275.5" width="51" height="1" fill="#fff" fill-opacity="0.09"/>
<rect x="174" y="275.5" width="50.5" height="1" fill="#fff" fill-opacity="0.14"/>
<rect x="72" y="279.5" width="51" height="1" fill="#000" fill-opacity="0.28"/>
<rect x="123" y="279.5" width="51" height="1" fill="#000" fill-opacity="0.28"/>
<rect x="174" y="278.5" width="50.5" height="1" fill="#000" fill-opacity="0.28"/>
<rect x="72" y="279.5" width="51" height="1" fill="#fff" fill-opacity="0.07"/>
<rect x="174" y="279.5" width="50.5" height="1" fill="#fff" fill-opacity="0.12"/>
<rect x="72" y="281.5" width="152.5" height="1" fill="#000" fill-opacity="0.28"/>
<rect x="72" y="284.5" width="152.5" height="1" fill="#000" fill-opacity="0.17"/>
<rect x="174" y="285.5" width="50.5" height="1" fill="#fff" fill-opacity="0.12"/>
<rect x="72" y="287.5" width="51" height="1" fill="#000" fill-opacity="0.30"/>
<rect x="123" y="288.5" width="51" height="1" fill="#000" fill-opacity="0.30"/>
<rect x="174" y="288.5" width="50.5" height="1" fill="#000" fill-opacity="0.30"/>
<rect x="123" y="289.5" width="51" height="1" fill="#fff" fill-opacity="0.14"/>
<rect x="174" y="289.5" width="50.5" height="1" fill="#fff" fill-opacity="0.09"/>
<rect x="72" y="291.5" width="51" height="1" fill="#000" fill-opacity="0.21"/>
<rect x="123" y="292.5" width="51" height="1" fill="#000" fill-opacity="0.21"/>
<rect x="72" y="292.5" width="51" height="1" fill="#fff" fill-opacity="0.10"/>
<rect x="174" y="292.5" width="50.5" height="1" fill="#fff" fill-opacity="0.10"/>
<rect x="72" y="295.5" width="152.5" height="1" fill="#000" fill-opacity="0.15"/>
<rect x="72" y="296.5" width="51" height="1" fill="#fff" fill-opacity="0.13"/>
<rect x="123" y="296.5" width="51" height="1" fill="#fff" fill-opacity="0.12"/>
<rect x="72" y="298.5" width="152.5" height="1" fill="#000" fill-opacity="0.19"/>
<rect x="123" y="299.5" width="51" height="1" fill="#fff" fill-opacity="0.12"/>
<rect x="72" y="301.5" width="152.5" height="1" fill="#000" fill-opacity="0.26"/>
<rect x="72" y="303.5" width="152.5" height="1" fill="#000" fill-opacity="0.18"/>
<rect x="72" y="304.5" width="51" height="1" fill="#fff" fill-opacity="0.14"/>
<rect x="174" y="304.5" width="50.5" height="1" fill="#fff" fill-opacity="0.09"/>
<rect x="72" y="306.5" width="51" height="1" fill="#000" fill-opacity="0.16"/>
<rect x="72" y="311.5" width="51" height="1" fill="#fff" fill-opacity="0.08"/>
<rect x="123" y="311.5" width="51" height="1" fill="#fff" fill-opacity="0.12"/>
<rect x="174" y="311.5" width="50.5" height="1" fill="#fff" fill-opacity="0.11"/>
<rect x="123" y="312.5" width="51" height="1" fill="#000" fill-opacity="0.28"/>
<rect x="174" y="313.5" width="50.5" height="1" fill="#000" fill-opacity="0.28"/>
<rect x="72" y="314.5" width="51" height="1" fill="#fff" fill-opacity="0.12"/>
<rect x="123" y="314.5" width="51" height="1" fill="#fff" fill-opacity="0.09"/>
<rect x="174" y="314.5" width="50.5" height="1" fill="#fff" fill-opacity="0.11"/>
<rect x="123" y="316.5" width="51" height="1" fill="#000" fill-opacity="0.28"/>
<rect x="174" y="317.5" width="50.5" height="1" fill="#000" fill-opacity="0.28"/>
<rect x="72" y="317.5" width="51" height="1" fill="#fff" fill-opacity="0.09"/>
<rect x="123" y="317.5" width="51" height="1" fill="#fff" fill-opacity="0.10"/>
<rect x="174" y="317.5" width="50.5" height="1" fill="#fff" fill-opacity="0.09"/>
<rect x="72" y="319.5" width="51" height="1" fill="#000" fill-opacity="0.23"/>
<rect x="123" y="318.5" width="51" height="1" fill="#000" fill-opacity="0.23"/>
<rect x="72" y="320.5" width="51" height="1" fill="#fff" fill-opacity="0.13"/>
<rect x="72" y="321.5" width="152.5" height="1" fill="#000" fill-opacity="0.28"/>
<rect x="72" y="322.5" width="51" height="1" fill="#fff" fill-opacity="0.10"/>
<rect x="123" y="322.5" width="51" height="1" fill="#fff" fill-opacity="0.13"/>
<rect x="174" y="322.5" width="50.5" height="1" fill="#fff" fill-opacity="0.07"/>
<rect x="123" y="324.5" width="51" height="1" fill="#000" fill-opacity="0.20"/>
<rect x="123" y="325.5" width="51" height="1" fill="#fff" fill-opacity="0.11"/>
<rect x="72" y="327.5" width="152.5" height="1" fill="#000" fill-opacity="0.20"/>
<rect x="72" y="328.5" width="51" height="1" fill="#fff" fill-opacity="0.08"/>
<rect x="123" y="328.5" width="51" height="1" fill="#fff" fill-opacity="0.11"/>
<rect x="72" y="330.5" width="51" height="1" fill="#000" fill-opacity="0.27"/>
<rect x="123" y="330.5" width="51" height="1" fill="#000" fill-opacity="0.27"/>
<rect x="174" y="329.5" width="50.5" height="1" fill="#000" fill-opacity="0.27"/>
<rect x="123" y="331.5" width="51" height="1" fill="#fff" fill-opacity="0.07"/>
<rect x="174" y="331.5" width="50.5" height="1" fill="#fff" fill-opacity="0.10"/>
<rect x="72" y="334.5" width="51" height="1" fill="#000" fill-opacity="0.15"/>
<rect x="123" y="333.5" width="51" height="1" fill="#000" fill-opacity="0.15"/>
<rect x="72" y="334.5" width="51" height="1" fill="#fff" fill-opacity="0.07"/>
<rect x="72" y="337.5" width="152.5" height="1" fill="#000" fill-opacity="0.28"/>
<rect x="123" y="338.5" width="51" height="1" fill="#fff" fill-opacity="0.08"/>
<rect x="72" y="339.5" width="51" height="1" fill="#000" fill-opacity="0.21"/>
<rect x="174" y="340.5" width="50.5" height="1" fill="#000" fill-opacity="0.21"/>
<rect x="72" y="341.5" width="51" height="1" fill="#fff" fill-opacity="0.08"/>
<rect x="123" y="341.5" width="51" height="1" fill="#fff" fill-opacity="0.11"/>
<rect x="72" y="344.5" width="152.5" height="1" fill="#000" fill-opacity="0.24"/>
<rect x="72" y="345.5" width="51" height="1" fill="#fff" fill-opacity="0.11"/>
<rect x="123" y="345.5" width="51" height="1" fill="#fff" fill-opacity="0.09"/>
<rect x="174" y="345.5" width="50.5" height="1" fill="#fff" fill-opacity="0.13"/>
<rect x="72" y="346.5" width="152.5" height="1" fill="#000" fill-opacity="0.26"/>
<rect x="174" y="347.5" width="50.5" height="1" fill="#fff" fill-opacity="0.13"/>
<rect x="72" y="349.5" width="51" height="1" fill="#000" fill-opacity="0.22"/>
<rect x="123" y="349.5" width="51" height="1" fill="#000" fill-opacity="0.22"/>
<rect x="123" y="349.5" width="51" height="1" fill="#fff" fill-opacity="0.13"/>
<rect x="174" y="349.5" width="50.5" height="1" fill="#fff" fill-opacity="0.10"/>
<rect x="72" y="351.5" width="51" height="1" fill="#000" fill-opacity="0.17"/>
<rect x="174" y="351.5" width="50.5" height="1" fill="#000" fill-opacity="0.17"/>
<rect x="72" y="352.5" width="51" height="1" fill="#fff" fill-opacity="0.09"/>
<rect x="174" y="353.5" width="50.5" height="1" fill="#000" fill-opacity="0.27"/>
<rect x="72" y="356.5" width="51" height="1" fill="#000" fill-opacity="0.19"/>
<rect x="174" y="356.5" width="50.5" height="1" fill="#000" fill-opacity="0.19"/>
<rect x="72" y="357.5" width="51" height="1" fill="#fff" fill-opacity="0.07"/>
<rect x="174" y="357.5" width="50.5" height="1" fill="#fff" fill-opacity="0.10"/>
<rect x="72" y="359.5" width="51" height="1" fill="#000" fill-opacity="0.27"/>
<rect x="123" y="360.5" width="51" height="1" fill="#000" fill-opacity="0.27"/>
<rect x="174" y="360.5" width="50.5" height="1" fill="#000" fill-opacity="0.27"/>
<rect x="72" y="361.5" width="51" height="1" fill="#fff" fill-opacity="0.12"/>
<rect x="123" y="361.5" width="51" height="1" fill="#fff" fill-opacity="0.08"/>
<rect x="72" y="364.5" width="51" height="1" fill="#000" fill-opacity="0.22"/>
<rect x="123" y="364.5" width="51" height="1" fill="#fff" fill-opacity="0.07"/>
<rect x="72" y="365.5" width="152.5" height="1" fill="#000" fill-opacity="0.30"/>
<rect x="72" y="366.5" width="51" height="1" fill="#fff" fill-opacity="0.14"/>
<rect x="174" y="366.5" width="50.5" height="1" fill="#fff" fill-opacity="0.13"/>
<rect x="72" y="368.5" width="152.5" height="1" fill="#000" fill-opacity="0.20"/>
<rect x="123" y="369.5" width="51" height="1" fill="#fff" fill-opacity="0.13"/>
<rect x="174" y="369.5" width="50.5" height="1" fill="#fff" fill-opacity="0.13"/>
<rect x="72" y="371.5" width="152.5" height="1" fill="#000" fill-opacity="0.29"/>
<rect x="72" y="372.5" width="51" height="1" fill="#fff" fill-opacity="0.11"/>
<rect x="174" y="372.5" width="50.5" height="1" fill="#fff" fill-opacity="0.10"/>
<rect x="72" y="374.5" width="152.5" height="1" fill="#000" fill-opacity="0.17"/>
<rect x="123" y="377.5" width="51" height="1" fill="#000" fill-opacity="0.18"/>
<rect x="72" y="378.5" width="51" height="1" fill="#fff" fill-opacity="0.11"/>
<rect x="72" y="380.5" width="51" height="1" fill="#000" fill-opacity="0.24"/>
<rect x="123" y="380.5" width="51" height="1" fill="#000" fill-opacity="0.24"/>
<rect x="72" y="381.5" width="51" height="1" fill="#fff" fill-opacity="0.12"/>
<rect x="123" y="381.5" width="51" height="1" fill="#fff" fill-opacity="0.08"/>
<rect x="72" y="382.5" width="152.5" height="1" fill="#000" fill-opacity="0.22"/>
<rect x="72" y="383.5" width="51" height="1" fill="#fff" fill-opacity="0.14"/>
<rect x="72" y="385.5" width="51" height="1" fill="#000" fill-opacity="0.26"/>
<rect x="174" y="386.5" width="50.5" height="1" fill="#000" fill-opacity="0.26"/>
<rect x="72" y="386.5" width="51" height="1" fill="#fff" fill-opacity="0.07"/>
<rect x="123" y="386.5" width="51" height="1" fill="#fff" fill-opacity="0.11"/>
<rect x="174" y="386.5" width="50.5" height="1" fill="#fff" fill-opacity="0.07"/>
<rect x="72" y="388.5" width="152.5" height="1" fill="#000" fill-opacity="0.22"/>
<rect x="72" y="389.5" width="51" height="1" fill="#fff" fill-opacity="0.10"/>
<rect x="123" y="389.5" width="51" height="1" fill="#fff" fill-opacity="0.08"/>
<rect x="174" y="389.5" width="50.5" height="1" fill="#fff" fill-opacity="0.13"/>
<rect x="72" y="391.5" width="152.5" height="1" fill="#000" fill-opacity="0.29"/>
<rect x="72" y="392.5" width="51" height="1" fill="#fff" fill-opacity="0.08"/>
<rect x="123" y="392.5" width="51" height="1" fill="#fff" fill-opacity="0.11"/>
<rect x="72" y="394.5" width="152.5" height="1" fill="#000" fill-opacity="0.18"/>
<rect x="72" y="395.5" width="51" height="1" fill="#fff" fill-opacity="0.12"/>
<rect x="174" y="395.5" width="50.5" height="1" fill="#fff" fill-opacity="0.12"/>
<rect x="72" y="397.5" width="51" height="1" fill="#000" fill-opacity="0.22"/>
<rect x="174" y="399.5" width="50.5" height="1" fill="#000" fill-opacity="0.22"/>
<rect x="72" y="399.5" width="51" height="1" fill="#fff" fill-opacity="0.08"/>
<rect x="123" y="399.5" width="51" height="1" fill="#fff" fill-opacity="0.13"/>
<rect x="174" y="399.5" width="50.5" height="1" fill="#fff" fill-opacity="0.11"/>
<rect x="72" y="401.5" width="152.5" height="1" fill="#000" fill-opacity="0.17"/>
<rect x="123" y="402.5" width="51" height="1" fill="#fff" fill-opacity="0.11"/>
<rect x="72" y="405.5" width="51" height="1" fill="#fff" fill-opacity="0.11"/>
<rect x="123" y="405.5" width="51" height="1" fill="#fff" fill-opacity="0.10"/></g>
<rect x="64" y="57" width="7" height="348.6" fill="#06f806"/>
<path d="M34.8 67.5H43.7M43.7 64.9H49.4M49.4 62.3H59.2M59.2 59.7H64M59.2 64.9H64M49.4 70.6H57.7M57.7 69H64M57.7 71.6H64M43.7 76.3H55.1M55.1 75.2H64M55.1 77.2H64M50.9 83.6H59.2M59.2 80.4H64M59.2 86.2H64M41.6 96.6H50.9M50.9 102.3H56.6M56.6 96H64M56.6 109H62.4M62.4 107.5H64M62.4 110.8H64M29.1 109.5H34.8M34.8 119.4H41.6M26.5 126.2H29.1M20.8 131.3H26.5M47.3 123.6H56.6M56.6 118.4H64M56.6 126.2H62.4M62.4 124.6H64M62.4 129.3H64M41.6 138.1H47.3M54.6 137.1H64M47.3 145.9H54.6M54.6 151.6H58.8M58.8 147.5H64M58.8 156.3H64M29.1 178.1H32.2M32.2 167.2H38.5M38.5 163.6H46.3M53.5 159.5H64M53.5 162H64M46.3 166.5H64M46.3 162H53.5M38.5 170.3H47.8M47.8 168.7H64M47.8 172.4H56M56 171.3H64M56 173.8H64M32.2 184.9H43.7M43.7 180.7H52M52 176.5H64M52 183.3H64M60 175.5H64M60 178H64M43.7 191.6H53M53 188.6H64M53 194.7H64M58 187.5H64M58 190H64M26.5 200.4H40.6M40.6 198.9H49.4M49.4 196.5H64M49.4 201H56M56 199.8H64M56 202.3H64M40.6 204.1H47.8M47.8 203H64M47.8 206H55M55 205H64M55 207.5H64M26.5 212.4H39.5M39.5 209.3H46.3M46.3 207.5H64M46.3 211H64M39.5 216H49.9M49.9 214.5H64M49.9 217.6H64M11.5 231.1H20.8M39.5 237.8H50.4M50.4 230.1H58.7M58.7 223.8H64M58.7 234.2H64M50.4 248.2H55.6M55.6 246.7H62.4M62.4 245H64M62.4 248.5H64M55.6 253.9H64M53.5 268.5H60.3M60.3 264.3H64M60.3 275.2H64M46.3 288.2H53.5M34.8 292.9H39.5M53.5 299.7H59.8M59.8 291.9H64M59.8 311.1H64M20.8 305.4H26.5M26.5 312.1H29.1M29.1 306.4H34.8M39.5 311.1H46.3M53 333.4H64M46.3 342.8H53M53 356.8H59.2M59.2 351.6H64M59.2 361.5H64M45.2 373.1H52M52 369.3H59.8M59.8 367.5H64M59.8 371H64M52 375H64M61 373.6H64M61 376.4H64M34.8 380.4H45.2M45.2 386.1H54.6M54.6 382.5H64M54.6 389.7H61.8M61.8 388H64M61.8 391.5H64M29.1 399.6H36.9M36.9 398H41.6M41.6 396.5H64M41.6 400.1H50M50 399H64M50 401.5H64M36.9 404.3H64M20.8 405.3H64" stroke="#3cb43c" stroke-width="1.05" fill="none"/><path d="M34.8 67.0V119.9M43.7 64.4V76.8M49.4 61.8V71.1M59.2 59.2V65.4M57.7 68.5V72.1M55.1 74.7V77.7M50.9 83.1V102.8M59.2 79.9V86.7M41.6 96.1V138.6M56.6 95.5V109.5M62.4 107.0V111.3M29.1 109.0V178.6M26.5 125.7V200.9M20.8 130.8V405.8M47.3 123.1V146.4M56.6 117.9V126.7M62.4 124.1V129.8M54.6 136.6V152.1M58.8 147.0V156.8M32.2 166.7V185.4M38.5 163.1V170.8M46.3 160.0V167.0M53.5 159.0V162.5M47.8 168.2V172.9M56 170.8V174.3M43.7 180.2V192.1M52 176.0V183.8M60 175.0V178.5M53 188.1V195.2M58 187.0V190.5M40.6 198.4V204.6M49.4 196.0V201.5M56 199.3V202.8M47.8 202.5V206.5M55 204.5V208.0M26.5 211.9V312.6M39.5 208.8V216.5M46.3 207.0V211.5M49.9 214.0V218.1M39.5 237.3V311.6M50.4 229.6V248.7M58.7 223.3V234.7M55.6 246.2V254.4M62.4 244.5V249.0M53.5 268.0V300.2M60.3 263.8V275.7M46.3 287.7V343.3M34.8 292.4V380.9M59.8 291.4V311.6M29.1 305.9V400.1M53 332.9V357.3M59.2 351.1V362.0M45.2 372.4V386.6M52 368.8V375.5M59.8 367.0V371.5M61 373.1V376.9M54.6 382.0V390.2M61.8 387.5V392.0M36.9 397.5V404.8M41.6 396.0V400.6M50 398.5V402.0" stroke="#2cc02c" stroke-width="1.45" fill="none"/>
<g fill="#14f014"><rect x="145.9" y="20.5" width="4.6" height="7.7"/><rect x="120.7" y="25.5" width="80.1" height="2.7"/><rect x="120.7" y="25.5" width="4.6" height="11"/><rect x="95.2" y="33.8" width="55.2" height="2.7"/><rect x="95.2" y="33.8" width="4.7" height="23.2"/><rect x="145.9" y="33.8" width="4.6" height="23.2"/><rect x="196" y="25.5" width="4.8" height="31.5"/></g>
<text x="79.5" y="420.1" font-size="15" font-weight="normal" font-style="normal" text-anchor="start" fill="#fff" >IL-15</text>
<text x="135.2" y="420.1" font-size="15" font-weight="normal" font-style="normal" text-anchor="start" fill="#fff" >IL-2</text>
<text x="178.8" y="420.1" font-size="15" font-weight="normal" font-style="normal" text-anchor="start" fill="#fff" >IL-21</text>
<text x="405.5" y="25.8" font-size="13.1" font-weight="normal" font-style="normal" text-anchor="middle" fill="#000" >Genes expressed by mature</text>
<text x="405.5" y="40.8" font-size="13.1" font-weight="normal" font-style="normal" text-anchor="middle" fill="#000" >effector CD8<tspan font-size="8" dy="-4.5">+</tspan><tspan dy="4.5"> T cells</tspan></text>
<rect x="381.20" y="54.40" width="139.30" height="9" fill="#ff0000" stroke="#000" stroke-width="1.5"/>
<rect x="381.20" y="63.40" width="121.80" height="9" fill="#ffff00" stroke="#000" stroke-width="1.5"/>
<rect x="371.00" y="72.40" width="10.20" height="9" fill="#3a3a9c" stroke="#000" stroke-width="1.5"/>
<rect x="381.20" y="91.05" width="64.30" height="9" fill="#ff0000" stroke="#000" stroke-width="1.5"/>
<rect x="381.20" y="100.05" width="32.10" height="9" fill="#ffff00" stroke="#000" stroke-width="1.5"/>
<rect x="364.00" y="109.05" width="17.20" height="9" fill="#3a3a9c" stroke="#000" stroke-width="1.5"/>
<rect x="381.20" y="129.60" width="29.70" height="9" fill="#ff0000" stroke="#000" stroke-width="1.5"/>
<rect x="381.20" y="138.60" width="20.10" height="9" fill="#ffff00" stroke="#000" stroke-width="1.5"/>
<rect x="381.20" y="147.60" width="7.50" height="9" fill="#3a3a9c" stroke="#000" stroke-width="1.5"/>
<rect x="381.20" y="166.25" width="16.20" height="9" fill="#ff0000" stroke="#000" stroke-width="1.5"/>
<rect x="381.20" y="175.25" width="34.00" height="9" fill="#ffff00" stroke="#000" stroke-width="1.5"/>
<rect x="329.60" y="184.25" width="51.60" height="9" fill="#3a3a9c" stroke="#000" stroke-width="1.5"/>
<path d="M381.2 48.5 V196.7" stroke="#000" stroke-width="1.6"/>
<path d="M378.59999999999997 48.5 H381.2" stroke="#000" stroke-width="1.4"/>
<path d="M378.59999999999997 85.55 H381.2" stroke="#000" stroke-width="1.4"/>
<path d="M378.59999999999997 122.6 H381.2" stroke="#000" stroke-width="1.4"/>
<path d="M378.59999999999997 159.64999999999998 H381.2" stroke="#000" stroke-width="1.4"/>
<path d="M378.59999999999997 196.7 H381.2" stroke="#000" stroke-width="1.4"/>
<path d="M289.8 196.7 H517.5" stroke="#000" stroke-width="1.6"/>
<path d="M290.4 196.7 V199.29999999999998" stroke="#000" stroke-width="1.4"/>
<text x="288.5" y="210.89999999999998" font-size="12.4" font-weight="normal" font-style="normal" text-anchor="middle" fill="#000" >-3</text>
<path d="M335.6 196.7 V199.29999999999998" stroke="#000" stroke-width="1.4"/>
<text x="334.4" y="210.89999999999998" font-size="12.4" font-weight="normal" font-style="normal" text-anchor="middle" fill="#000" >-2</text>
<path d="M381.2 196.7 V199.29999999999998" stroke="#000" stroke-width="1.4"/>
<path d="M426.5 196.7 V199.29999999999998" stroke="#000" stroke-width="1.4"/>
<text x="426.1" y="210.89999999999998" font-size="12.4" font-weight="normal" font-style="normal" text-anchor="middle" fill="#000" >2</text>
<path d="M472 196.7 V199.29999999999998" stroke="#000" stroke-width="1.4"/>
<text x="472.4" y="210.89999999999998" font-size="12.4" font-weight="normal" font-style="normal" text-anchor="middle" fill="#000" >3</text>
<path d="M517.6 196.7 V199.29999999999998" stroke="#000" stroke-width="1.4"/>
<text x="516.6" y="210.89999999999998" font-size="12.4" font-weight="normal" font-style="normal" text-anchor="middle" fill="#000" >4</text>
<text x="276.3" y="71.4" font-size="12.8" font-weight="normal" font-style="italic" text-anchor="start" fill="#000" >Gzmb</text>
<text x="276.3" y="108.45" font-size="12.8" font-weight="normal" font-style="italic" text-anchor="start" fill="#000" >Il2ra</text>
<text x="276.3" y="145.5" font-size="12.8" font-weight="normal" font-style="italic" text-anchor="start" fill="#000" >Ifng</text>
<text x="276.3" y="182.55" font-size="12.8" font-weight="normal" font-style="italic" text-anchor="start" fill="#000" >Eomes</text>
<rect x="470.5" y="98.8" width="13.5" height="13.3" fill="#ff0000" stroke="#111" stroke-width="1"/>
<text x="488.4" y="109.0" font-size="12.8" font-weight="normal" font-style="normal" text-anchor="start" fill="#000" >IL-2</text>
<rect x="470.5" y="125.55" width="13.5" height="13.3" fill="#ffff00" stroke="#111" stroke-width="1"/>
<text x="488.4" y="135.75" font-size="12.8" font-weight="normal" font-style="normal" text-anchor="start" fill="#000" >IL-15</text>
<rect x="470.5" y="152.3" width="13.5" height="13.3" fill="#0b0b88" stroke="#111" stroke-width="1"/>
<text x="488.4" y="162.5" font-size="12.8" font-weight="normal" font-style="normal" text-anchor="start" fill="#000" >IL-21</text>
<text x="405.4" y="242.7" font-size="13.1" font-weight="normal" font-style="normal" text-anchor="middle" fill="#000" >Genes expressed by immature</text>
<text x="405.4" y="257.3" font-size="13.1" font-weight="normal" font-style="normal" text-anchor="middle" fill="#000" >effector CD8<tspan font-size="8" dy="-4.5">+</tspan><tspan dy="4.5"> T cells</tspan></text>
<rect x="377.30" y="272.80" width="3.90" height="9" fill="#ff0000" stroke="#000" stroke-width="1.5"/>
<rect x="354.70" y="281.80" width="26.50" height="9" fill="#ffff00" stroke="#000" stroke-width="1.5"/>
<rect x="381.20" y="290.80" width="5.30" height="9" fill="#3a3a9c" stroke="#000" stroke-width="1.5"/>
<rect x="352.40" y="310.35" width="28.80" height="9" fill="#ff0000" stroke="#000" stroke-width="1.5"/>
<rect x="375.00" y="319.35" width="6.20" height="9" fill="#ffff00" stroke="#000" stroke-width="1.5"/>
<rect x="381.20" y="328.35" width="13.80" height="9" fill="#3a3a9c" stroke="#000" stroke-width="1.5"/>
<rect x="327.10" y="347.90" width="54.10" height="9" fill="#ff0000" stroke="#000" stroke-width="1.5"/>
<rect x="361.70" y="356.90" width="19.50" height="9" fill="#ffff00" stroke="#000" stroke-width="1.5"/>
<rect x="381.20" y="365.90" width="15.70" height="9" fill="#3a3a9c" stroke="#000" stroke-width="1.5"/>
<rect x="319.90" y="384.75" width="61.30" height="9" fill="#ff0000" stroke="#000" stroke-width="1.5"/>
<rect x="340.70" y="393.75" width="40.50" height="9" fill="#ffff00" stroke="#000" stroke-width="1.5"/>
<rect x="381.20" y="402.75" width="38.20" height="9" fill="#3a3a9c" stroke="#000" stroke-width="1.5"/>
<path d="M381.2 267.4 V415.59999999999997" stroke="#000" stroke-width="1.6"/>
<path d="M378.59999999999997 267.4 H381.2" stroke="#000" stroke-width="1.4"/>
<path d="M378.59999999999997 304.45 H381.2" stroke="#000" stroke-width="1.4"/>
<path d="M378.59999999999997 341.5 H381.2" stroke="#000" stroke-width="1.4"/>
<path d="M378.59999999999997 378.54999999999995 H381.2" stroke="#000" stroke-width="1.4"/>
<path d="M378.59999999999997 415.59999999999997 H381.2" stroke="#000" stroke-width="1.4"/>
<path d="M289.8 415.59999999999997 H517.5" stroke="#000" stroke-width="1.6"/>
<path d="M290.4 415.59999999999997 V418.2" stroke="#000" stroke-width="1.4"/>
<text x="288.5" y="429.49999999999994" font-size="12.4" font-weight="normal" font-style="normal" text-anchor="middle" fill="#000" >-3</text>
<path d="M335.6 415.59999999999997 V418.2" stroke="#000" stroke-width="1.4"/>
<text x="334.4" y="429.49999999999994" font-size="12.4" font-weight="normal" font-style="normal" text-anchor="middle" fill="#000" >-2</text>
<path d="M381.2 415.59999999999997 V418.2" stroke="#000" stroke-width="1.4"/>
<path d="M426.5 415.59999999999997 V418.2" stroke="#000" stroke-width="1.4"/>
<text x="426.1" y="429.49999999999994" font-size="12.4" font-weight="normal" font-style="normal" text-anchor="middle" fill="#000" >2</text>
<path d="M472 415.59999999999997 V418.2" stroke="#000" stroke-width="1.4"/>
<text x="472.4" y="429.49999999999994" font-size="12.4" font-weight="normal" font-style="normal" text-anchor="middle" fill="#000" >3</text>
<path d="M517.6 415.59999999999997 V418.2" stroke="#000" stroke-width="1.4"/>
<text x="516.6" y="429.49999999999994" font-size="12.4" font-weight="normal" font-style="normal" text-anchor="middle" fill="#000" >4</text>
<text x="276.3" y="288.5" font-size="12.8" font-weight="normal" font-style="italic" text-anchor="start" fill="#000" >Lef1</text>
<text x="276.3" y="325.55" font-size="12.8" font-weight="normal" font-style="italic" text-anchor="start" fill="#000" >Sell</text>
<text x="276.3" y="362.6" font-size="12.8" font-weight="normal" font-style="italic" text-anchor="start" fill="#000" >Itgae</text>
<text x="276.3" y="399.65" font-size="12.8" font-weight="normal" font-style="italic" text-anchor="start" fill="#000" >Tcf7</text>
<text x="405.5" y="443.8" font-size="13" font-weight="normal" font-style="normal" text-anchor="middle" fill="#000" >Fold expression</text>
<text x="14" y="529.6" font-size="13" font-weight="normal" font-style="normal" text-anchor="start" fill="#000" >4 hours</text>
<text transform="translate(76.3,527.5) rotate(-90)" font-size="13" text-anchor="middle">Relative Expression</text>
<path d="M96.9 486.8 V563.0" stroke="#000" stroke-width="1.5"/>
<path d="M96.2 562.3 H133.6" stroke="#000" stroke-width="1.5"/>
<path d="M94.9 562.30 H96.9" stroke="#000" stroke-width="1.2"/>
<text x="93.2" y="566.9" font-size="10.8" font-weight="normal" font-style="normal" text-anchor="end" fill="#000" >0</text>
<path d="M94.9 547.30 H96.9" stroke="#000" stroke-width="1.2"/>
<text x="93.2" y="551.9" font-size="10.8" font-weight="normal" font-style="normal" text-anchor="end" fill="#000" >1</text>
<path d="M94.9 532.30 H96.9" stroke="#000" stroke-width="1.2"/>
<text x="93.2" y="536.9" font-size="10.8" font-weight="normal" font-style="normal" text-anchor="end" fill="#000" >2</text>
<path d="M94.9 517.30 H96.9" stroke="#000" stroke-width="1.2"/>
<text x="93.2" y="521.9" font-size="10.8" font-weight="normal" font-style="normal" text-anchor="end" fill="#000" >3</text>
<path d="M94.9 502.30 H96.9" stroke="#000" stroke-width="1.2"/>
<text x="93.2" y="506.9" font-size="10.8" font-weight="normal" font-style="normal" text-anchor="end" fill="#000" >4</text>
<path d="M94.9 487.30 H96.9" stroke="#000" stroke-width="1.2"/>
<text x="93.2" y="491.9" font-size="10.8" font-weight="normal" font-style="normal" text-anchor="end" fill="#000" >5</text>
<rect x="100.89999999999999" y="545.65" width="4.50" height="16.65" fill="#fff" stroke="#000" stroke-width="1.3"/>
<rect x="113.0" y="545.50" width="4.40" height="16.80" fill="#fff" stroke="#000" stroke-width="1.3"/>
<rect x="124.89999999999999" y="489.40" width="4.70" height="72.90" fill="#fff" stroke="#000" stroke-width="1.3"/>
<path d="M96.90 562.3 V564.3" stroke="#000" stroke-width="1.2"/>
<path d="M109.20 562.3 V564.3" stroke="#000" stroke-width="1.2"/>
<path d="M121.15 562.3 V564.3" stroke="#000" stroke-width="1.2"/>
<path d="M133.00 562.3 V564.3" stroke="#000" stroke-width="1.2"/>
<text transform="translate(107.30,566.7) rotate(-90)" x="0" y="0" font-size="12.2" text-anchor="end" fill="#000">IL-2</text>
<text transform="translate(120.30,566.7) rotate(-90)" x="0" y="0" font-size="12.2" text-anchor="end" fill="#000">IL-15</text>
<text transform="translate(133.20,566.7) rotate(-90)" x="0" y="0" font-size="12.2" text-anchor="end" fill="#000">IL-21</text>
<text x="100.6" y="481.8" font-size="15.2" font-weight="normal" font-style="italic" text-anchor="start" fill="#000" >Tcf7</text>
<path d="M168 486.8 V563.0" stroke="#000" stroke-width="1.5"/>
<path d="M167.3 562.3 H205" stroke="#000" stroke-width="1.5"/>
<path d="M166 562.30 H168" stroke="#000" stroke-width="1.2"/>
<text x="164.9" y="566.9" font-size="10.8" font-weight="normal" font-style="normal" text-anchor="end" fill="#000" >0</text>
<path d="M166 537.50 H168" stroke="#000" stroke-width="1.2"/>
<text x="164.9" y="542.1" font-size="10.8" font-weight="normal" font-style="normal" text-anchor="end" fill="#000" >2.5</text>
<path d="M166 512.70 H168" stroke="#000" stroke-width="1.2"/>
<text x="164.9" y="517.3" font-size="10.8" font-weight="normal" font-style="normal" text-anchor="end" fill="#000" >5.0</text>
<path d="M166 487.90 H168" stroke="#000" stroke-width="1.2"/>
<text x="164.9" y="492.5" font-size="10.8" font-weight="normal" font-style="normal" text-anchor="end" fill="#000" >7.5</text>
<rect x="172.5" y="529.67" width="4.15" height="32.63" fill="#fff" stroke="#000" stroke-width="1.3"/>
<rect x="185.0" y="531.55" width="4.00" height="30.75" fill="#fff" stroke="#000" stroke-width="1.3"/>
<rect x="196.85" y="489.39" width="4.45" height="72.91" fill="#fff" stroke="#000" stroke-width="1.3"/>
<path d="M168.00 562.3 V564.3" stroke="#000" stroke-width="1.2"/>
<path d="M180.82 562.3 V564.3" stroke="#000" stroke-width="1.2"/>
<path d="M192.93 562.3 V564.3" stroke="#000" stroke-width="1.2"/>
<path d="M204.40 562.3 V564.3" stroke="#000" stroke-width="1.2"/>
<text transform="translate(178.40,566.7) rotate(-90)" x="0" y="0" font-size="12.2" text-anchor="end" fill="#000">IL-2</text>
<text transform="translate(191.50,566.7) rotate(-90)" x="0" y="0" font-size="12.2" text-anchor="end" fill="#000">IL-15</text>
<text transform="translate(204.40,566.7) rotate(-90)" x="0" y="0" font-size="12.2" text-anchor="end" fill="#000">IL-21</text>
<text x="171.8" y="481.8" font-size="15.2" font-weight="normal" font-style="italic" text-anchor="start" fill="#000" >Lef1</text>
<text x="282.6" y="529" font-size="13" font-weight="normal" font-style="normal" text-anchor="start" fill="#000" >3 days</text>
<circle cx="138.4" cy="560.6" r="0.7" fill="#333"/>
<path d="M347.5 486.8 V563.9000000000001" stroke="#000" stroke-width="1.5"/>
<path d="M346.8 563.2 H385.6" stroke="#000" stroke-width="1.5"/>
<path d="M345.5 563.20 H347.5" stroke="#000" stroke-width="1.2"/>
<text x="344.3" y="567.8000000000001" font-size="10.0" font-weight="normal" font-style="normal" text-anchor="end" fill="#000" >0</text>
<path d="M345.5 533.00 H347.5" stroke="#000" stroke-width="1.2"/>
<text x="344.3" y="537.6" font-size="10.0" font-weight="normal" font-style="normal" text-anchor="end" fill="#000" >1</text>
<path d="M345.5 502.80 H347.5" stroke="#000" stroke-width="1.2"/>
<text x="344.3" y="507.4000000000001" font-size="10.0" font-weight="normal" font-style="normal" text-anchor="end" fill="#000" >2</text>
<rect x="351.3" y="560.18" width="4.50" height="3.02" fill="#fff" stroke="#000" stroke-width="1.3"/>
<rect x="364.1" y="560.18" width="4.10" height="3.02" fill="#fff" stroke="#000" stroke-width="1.3"/>
<rect x="375.90000000000003" y="492.53" width="4.50" height="70.67" fill="#fff" stroke="#000" stroke-width="1.3"/>
<path d="M347.50 563.2 V565.2" stroke="#000" stroke-width="1.2"/>
<path d="M359.95 563.2 V565.2" stroke="#000" stroke-width="1.2"/>
<path d="M372.05 563.2 V565.2" stroke="#000" stroke-width="1.2"/>
<path d="M385.00 563.2 V565.2" stroke="#000" stroke-width="1.2"/>
<text transform="translate(358.50,568.5) rotate(-90)" x="0" y="0" font-size="12.2" text-anchor="end" fill="#000">IL-2</text>
<text transform="translate(371.70,568.5) rotate(-90)" x="0" y="0" font-size="12.2" text-anchor="end" fill="#000">IL-15</text>
<text transform="translate(385.00,568.5) rotate(-90)" x="0" y="0" font-size="12.2" text-anchor="end" fill="#000">IL-21</text>
<text x="348.0" y="478.6" font-size="15.2" font-weight="normal" font-style="italic" text-anchor="start" fill="#000" >Tcf7</text>
<path d="M418.4 486.8 V564.0" stroke="#000" stroke-width="1.5"/>
<path d="M417.7 563.3 H456.6" stroke="#000" stroke-width="1.5"/>
<path d="M416.4 563.30 H418.4" stroke="#000" stroke-width="1.2"/>
<text x="415.2" y="567.9" font-size="10.8" font-weight="normal" font-style="normal" text-anchor="end" fill="#000" >0</text>
<path d="M416.4 529.80 H418.4" stroke="#000" stroke-width="1.2"/>
<text x="415.2" y="534.4" font-size="10.8" font-weight="normal" font-style="normal" text-anchor="end" fill="#000" >2.5</text>
<path d="M416.4 496.30 H418.4" stroke="#000" stroke-width="1.2"/>
<text x="415.2" y="500.9" font-size="10.8" font-weight="normal" font-style="normal" text-anchor="end" fill="#000" >5.0</text>
<rect x="422.3" y="522.76" width="4.70" height="40.54" fill="#fff" stroke="#000" stroke-width="1.3"/>
<rect x="434.8" y="546.08" width="4.80" height="17.22" fill="#fff" stroke="#000" stroke-width="1.3"/>
<rect x="447.90000000000003" y="488.59" width="4.50" height="74.71" fill="#fff" stroke="#000" stroke-width="1.3"/>
<path d="M418.40 563.3 V565.3" stroke="#000" stroke-width="1.2"/>
<path d="M430.90 563.3 V565.3" stroke="#000" stroke-width="1.2"/>
<path d="M443.75 563.3 V565.3" stroke="#000" stroke-width="1.2"/>
<path d="M456.00 563.3 V565.3" stroke="#000" stroke-width="1.2"/>
<text transform="translate(428.20,566.5) rotate(-90)" x="0" y="0" font-size="12.2" text-anchor="end" fill="#000">IL-2</text>
<text transform="translate(442.30,566.5) rotate(-90)" x="0" y="0" font-size="12.2" text-anchor="end" fill="#000">IL-15</text>
<text transform="translate(455.50,566.5) rotate(-90)" x="0" y="0" font-size="12.2" text-anchor="end" fill="#000">IL-21</text>
<text x="419.5" y="479" font-size="15.2" font-weight="normal" font-style="italic" text-anchor="start" fill="#000" >Lef1</text>
</svg>
</body></html>
